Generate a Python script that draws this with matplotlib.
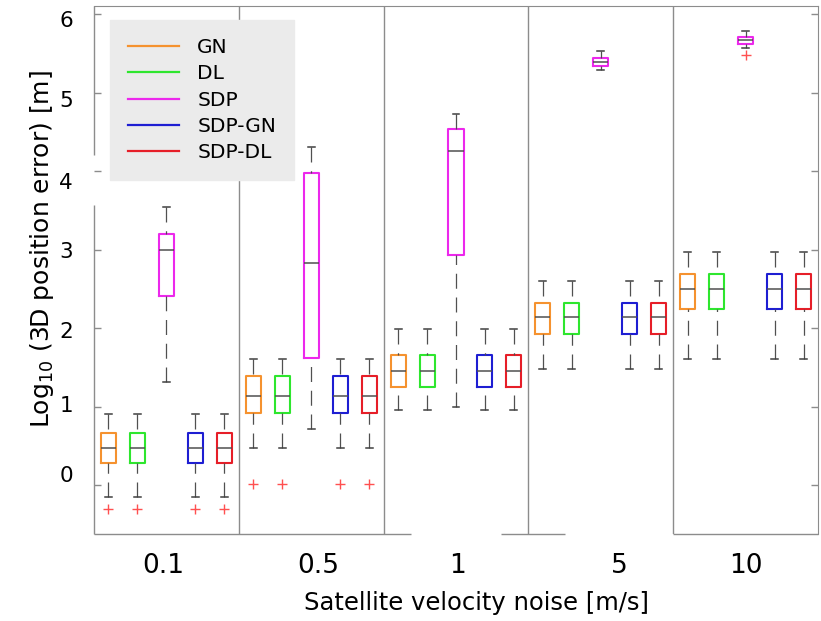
import numpy as np
import matplotlib
matplotlib.use('Agg')
import matplotlib.pyplot as plt
from matplotlib.lines import Line2D

# Noise levels and methods
groups = ['0.1', '0.5', '1', '5', '10']
methods = ['GN', 'DL', 'SDP', 'SDP-GN', 'SDP-DL']
colors = ['#f5922f', '#2ee62e', '#ec28ec', '#1e1ed2', '#e61e28']

# Box statistics, log10 of 3D position error [m], one value per noise level
gn_med = [0.467, 1.134, 1.456, 2.140, 2.497]
gn_q1 = [0.276, 0.921, 1.245, 1.920, 2.238]
gn_q3 = [0.658, 1.389, 1.656, 2.322, 2.684]
gn_lo = [-0.149, 0.475, 0.952, 1.482, 1.609]
gn_hi = [0.904, 1.605, 1.987, 2.595, 2.964]
gn_out = [[-0.31], [0.01], [], [], []]

dl_med = [0.467, 1.134, 1.456, 2.140, 2.497]
dl_q1 = [0.276, 0.921, 1.245, 1.920, 2.238]
dl_q3 = [0.658, 1.389, 1.656, 2.322, 2.684]
dl_lo = [-0.149, 0.475, 0.952, 1.482, 1.609]
dl_hi = [0.904, 1.605, 1.987, 2.595, 2.964]
dl_out = [[-0.31], [0.01], [], [], []]

sdp_med = [2.994, 2.828, 4.255, 5.389, 5.669]
sdp_q1 = [2.408, 1.614, 2.930, 5.338, 5.622]
sdp_q3 = [3.197, 3.970, 4.531, 5.443, 5.703]
sdp_lo = [1.308, 0.710, 0.997, 5.283, 5.571]
sdp_hi = [3.538, 4.310, 4.726, 5.529, 5.787]
sdp_out = [[], [], [], [], [5.478]]

sdpgn_med = [0.467, 1.134, 1.456, 2.140, 2.497]
sdpgn_q1 = [0.276, 0.921, 1.245, 1.920, 2.238]
sdpgn_q3 = [0.658, 1.389, 1.656, 2.322, 2.684]
sdpgn_lo = [-0.149, 0.475, 0.952, 1.482, 1.609]
sdpgn_hi = [0.904, 1.605, 1.987, 2.595, 2.964]
sdpgn_out = [[-0.31], [0.01], [], [], []]

sdpdl_med = [0.467, 1.134, 1.456, 2.140, 2.497]
sdpdl_q1 = [0.276, 0.921, 1.245, 1.920, 2.238]
sdpdl_q3 = [0.658, 1.389, 1.656, 2.322, 2.684]
sdpdl_lo = [-0.149, 0.475, 0.952, 1.482, 1.609]
sdpdl_hi = [0.904, 1.605, 1.987, 2.595, 2.964]
sdpdl_out = [[-0.31], [0.01], [], [], []]

all_stats = [
    (gn_med, gn_q1, gn_q3, gn_lo, gn_hi, gn_out),
    (dl_med, dl_q1, dl_q3, dl_lo, dl_hi, dl_out),
    (sdp_med, sdp_q1, sdp_q3, sdp_lo, sdp_hi, sdp_out),
    (sdpgn_med, sdpgn_q1, sdpgn_q3, sdpgn_lo, sdpgn_hi, sdpgn_out),
    (sdpdl_med, sdpdl_q1, sdpdl_q3, sdpdl_lo, sdpdl_hi, sdpdl_out),
]

offsets = [-0.4, -0.2, 0.0, 0.2, 0.4]
centers = np.arange(1, len(groups) + 1)
ylim = (-0.624, 6.102)
grey = '#8c8c8c'

fig = plt.figure(figsize=(8.21, 6.21), dpi=100)
ax = fig.add_axes([94 / 821, 1 - 534 / 621, 724 / 821, 528 / 621])

# Separateurs entre niveaux de bruit
ax.vlines(centers[:-1] + 0.5, ylim[0], ylim[1], color=grey, lw=1, zorder=1)

for (med, q1, q3, lo, hi, out), off, c in zip(all_stats, offsets, colors):
    stats = [dict(med=med[i], q1=q1[i], q3=q3[i], whislo=lo[i], whishi=hi[i], fliers=out[i])
             for i in range(len(groups))]
    bp = ax.bxp(stats, positions=centers + off, widths=0.104, capwidths=0.048,
                manage_ticks=False,
                boxprops=dict(color=c, linewidth=1.5),
                medianprops=dict(color='#505050', linewidth=1.1),
                whiskerprops=dict(color='#505050', linewidth=0.9, linestyle=(0, (12, 7))),
                capprops=dict(color='#404040', linewidth=1.1),
                flierprops=dict(marker='+', markeredgecolor='#ff5050', markersize=7,
                                markeredgewidth=1, linestyle='none'))
    # dashes start at the cap, like the original
    for w in bp['whiskers']:
        w.set_data(w.get_xdata()[::-1], w.get_ydata()[::-1])

ax.set_xlim(0.5, len(groups) + 0.5)
ax.set_ylim(*ylim)

# Spines: left and bottom drawn in pieces (gaps in the original)
for s in ['top', 'right']:
    ax.spines[s].set_color(grey)
ax.spines['left'].set_visible(False)
ax.spines['bottom'].set_visible(False)
ax.vlines([0.5, 0.5], [ylim[0], 4.20], [3.57, ylim[1]], color=grey, lw=1, clip_on=False)
ax.hlines([ylim[0]] * 3, [0.5, 3.31, 4.5], [2.69, 3.75, 5.5], color=grey, lw=1, clip_on=False)

# Tick labels
label_x = [0.98, 2.05, 3.01, 4.13, 5.00]
ax.set_xticks(label_x, labels=groups)
ax.tick_params(axis='x', length=0, pad=14, labelsize=19)

label_y = [0.134, 1.03, 1.97, 2.994, 3.873, 4.917, 5.936]
ax.set_yticks(label_y, labels=[str(i) for i in range(7)])
ax.tick_params(axis='y', which='major', length=0, pad=15, labelsize=15.5)
ax.set_yticks(range(7), minor=True)
ax.tick_params(axis='y', which='minor', direction='in', length=5, width=1,
               color=grey, left=True, right=True)

ax.set_xlabel('Satellite velocity noise [m/s]', fontsize=17.5)
ax.xaxis.set_label_coords(0.528, -0.108)
ax.set_ylabel('Log$_{10}$ (3D position error) [m]', fontsize=18)
ax.yaxis.set_label_coords(-0.053, 0.54)

handles = [Line2D([], [], color=c, lw=1.6) for c in colors]
ax.legend(handles, methods, loc='upper left', bbox_to_anchor=(0.022, 0.9735),
          borderaxespad=0, fontsize=14.5, frameon=True, facecolor='#ebebeb',
          edgecolor='#ebebeb', framealpha=1, fancybox=False, handlelength=2.54,
          handletextpad=0.9, borderpad=0.9, labelspacing=0.36)

fig.savefig('out.png', dpi=100)
